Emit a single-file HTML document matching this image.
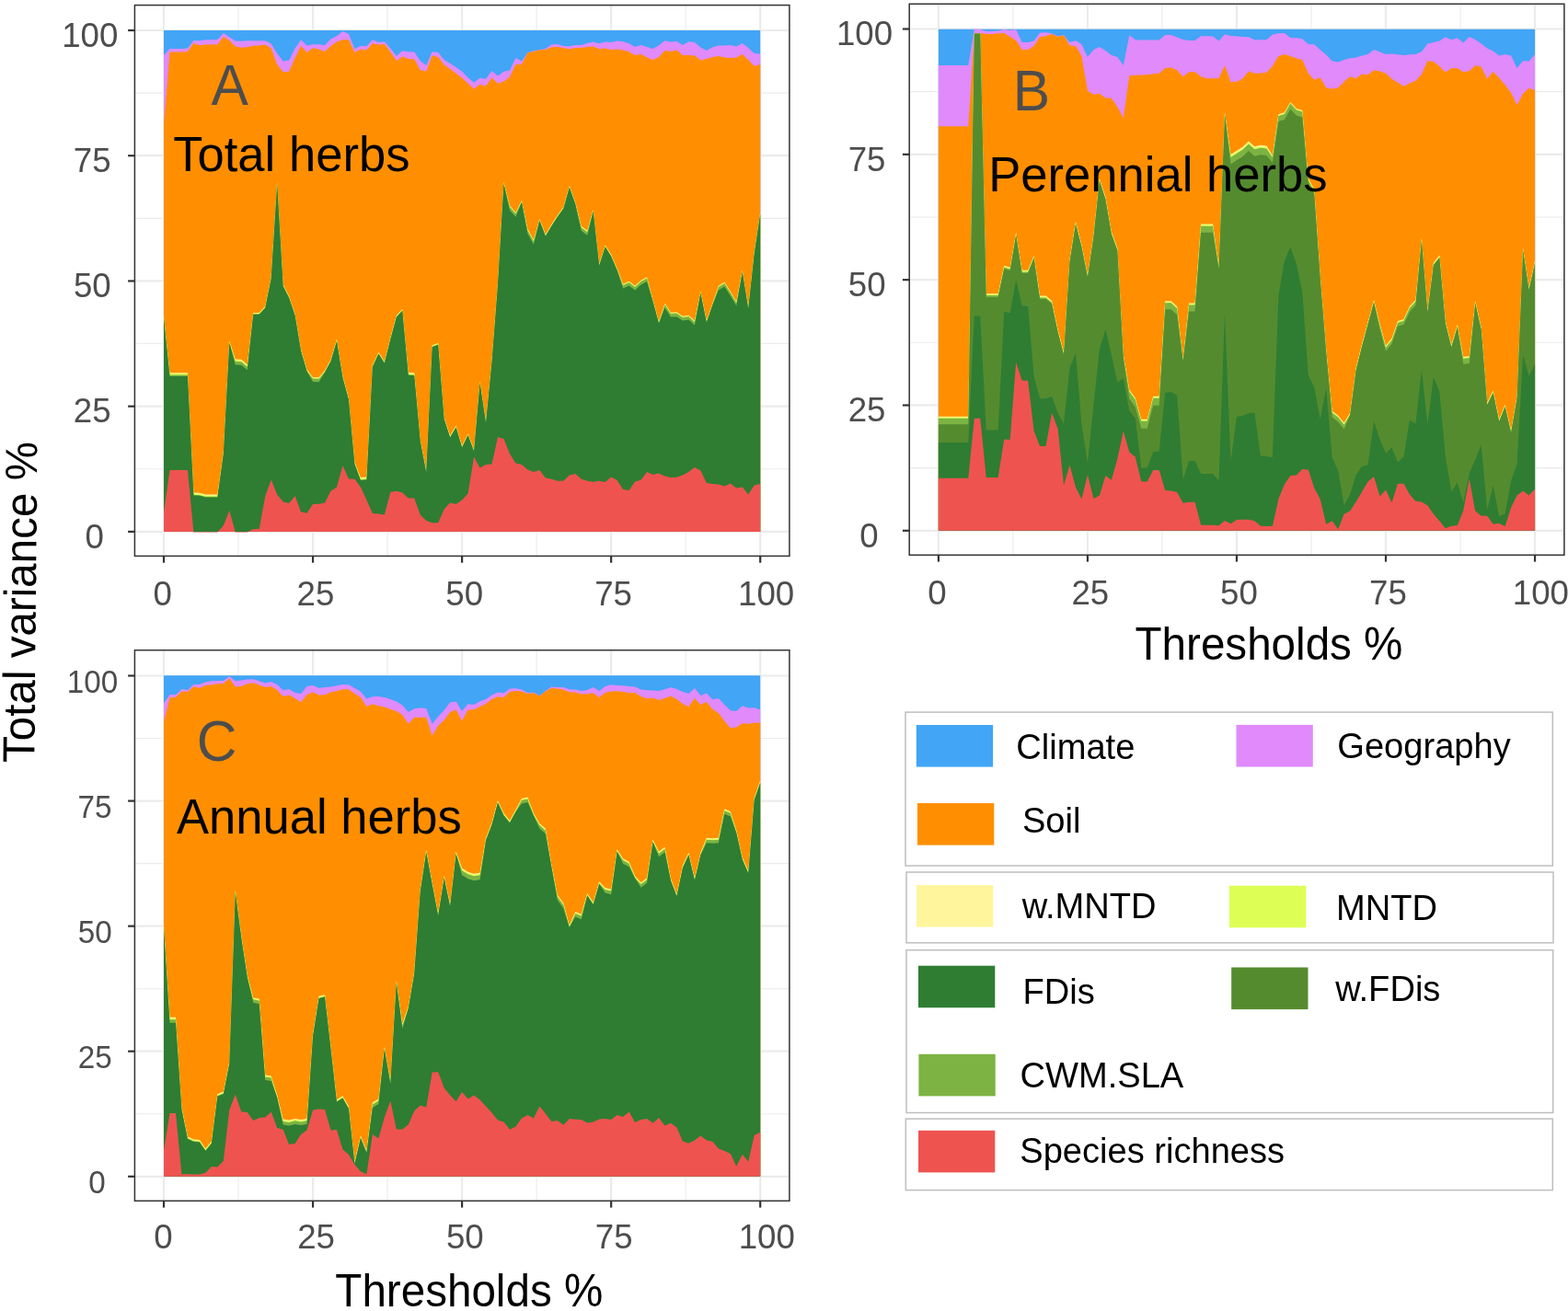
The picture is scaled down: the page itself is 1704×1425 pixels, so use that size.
<!DOCTYPE html>
<html lang="en"><head><meta charset="utf-8"><title>Variance partitioning across thresholds</title>
<style>html,body{margin:0;padding:0;background:#fff}body{width:1704px;height:1425px;overflow:hidden}svg{display:block}</style>
</head><body>
<svg width="1704" height="1425" viewBox="0 0 1704 1425" font-family="'Liberation Sans', sans-serif">
<rect width="1704" height="1425" fill="#fff"/>
<g id="pA">
<rect x="146.4" y="5.6" width="711.5" height="598.8" fill="#fff"/>
<line x1="259.02" y1="5.6" x2="259.02" y2="604.4" stroke="#EBEBEB" stroke-width="1.1"/>
<line x1="146.4" y1="509.79" x2="857.9" y2="509.79" stroke="#EBEBEB" stroke-width="1.1"/>
<line x1="421.08" y1="5.6" x2="421.08" y2="604.4" stroke="#EBEBEB" stroke-width="1.1"/>
<line x1="146.4" y1="373.56" x2="857.9" y2="373.56" stroke="#EBEBEB" stroke-width="1.1"/>
<line x1="583.12" y1="5.6" x2="583.12" y2="604.4" stroke="#EBEBEB" stroke-width="1.1"/>
<line x1="146.4" y1="237.34" x2="857.9" y2="237.34" stroke="#EBEBEB" stroke-width="1.1"/>
<line x1="745.18" y1="5.6" x2="745.18" y2="604.4" stroke="#EBEBEB" stroke-width="1.1"/>
<line x1="146.4" y1="101.11" x2="857.9" y2="101.11" stroke="#EBEBEB" stroke-width="1.1"/>
<line x1="178" y1="5.6" x2="178" y2="604.4" stroke="#EBEBEB" stroke-width="2.2"/>
<line x1="146.4" y1="577.9" x2="857.9" y2="577.9" stroke="#EBEBEB" stroke-width="2.2"/>
<line x1="340.05" y1="5.6" x2="340.05" y2="604.4" stroke="#EBEBEB" stroke-width="2.2"/>
<line x1="146.4" y1="441.67" x2="857.9" y2="441.67" stroke="#EBEBEB" stroke-width="2.2"/>
<line x1="502.1" y1="5.6" x2="502.1" y2="604.4" stroke="#EBEBEB" stroke-width="2.2"/>
<line x1="146.4" y1="305.45" x2="857.9" y2="305.45" stroke="#EBEBEB" stroke-width="2.2"/>
<line x1="664.15" y1="5.6" x2="664.15" y2="604.4" stroke="#EBEBEB" stroke-width="2.2"/>
<line x1="146.4" y1="169.22" x2="857.9" y2="169.22" stroke="#EBEBEB" stroke-width="2.2"/>
<line x1="826.2" y1="5.6" x2="826.2" y2="604.4" stroke="#EBEBEB" stroke-width="2.2"/>
<line x1="146.4" y1="33" x2="857.9" y2="33" stroke="#EBEBEB" stroke-width="2.2"/>
<polygon fill="#42A5F5" points="178,577.9 178,33 184.48,33 190.96,33 197.45,33 203.93,33 210.41,33 216.89,33 223.37,33 229.86,33 236.34,33 242.82,33 249.3,33 255.78,33 262.27,33 268.75,33 275.23,33 281.71,33 288.19,33 294.68,33 301.16,33 307.64,33 314.12,33 320.6,33 327.09,33 333.57,33 340.05,33 346.53,33 353.01,33 359.5,33 365.98,33 372.46,33 378.94,33 385.42,33 391.91,33 398.39,33 404.87,33 411.35,33 417.83,33 424.32,33 430.8,33 437.28,33 443.76,33 450.24,33 456.73,33 463.21,33 469.69,33 476.17,33 482.65,33 489.14,33 495.62,33 502.1,33 508.58,33 515.06,33 521.55,33 528.03,33 534.51,33 540.99,33 547.47,33 553.96,33 560.44,33 566.92,33 573.4,33 579.88,33 586.37,33 592.85,33 599.33,33 605.81,33 612.29,33 618.78,33 625.26,33 631.74,33 638.22,33 644.7,33 651.19,33 657.67,33 664.15,33 670.63,33 677.11,33 683.6,33 690.08,33 696.56,33 703.04,33 709.52,33 716.01,33 722.49,33 728.97,33 735.45,33 741.93,33 748.42,33 754.9,33 761.38,33 767.86,33 774.34,33 780.83,33 787.31,33 793.79,33 800.27,33 806.75,33 813.24,33 819.72,33 826.2,33 826.2,577.9"/>
<polygon fill="#E08AFB" points="178,577.9 178,59.92 184.48,52.93 190.96,52.93 197.45,52.93 203.93,52.53 210.41,43.95 216.89,44.35 223.37,43.36 229.86,43.16 236.34,42.96 242.82,35.97 249.3,40.36 255.78,44.55 262.27,44.75 268.75,44.35 275.23,44.15 281.71,44.15 288.19,44.15 294.68,47.55 301.16,57.92 307.64,66.5 314.12,65.5 320.6,52.53 327.09,43.36 333.57,49.54 340.05,48.34 346.53,48.34 353.01,49.34 359.5,42.36 365.98,39.37 372.46,33.98 378.94,36.97 385.42,52.93 391.91,49.94 398.39,50.34 404.87,43.36 411.35,45.95 417.83,45.15 424.32,52.53 430.8,60.91 437.28,55.33 443.76,56.32 450.24,56.52 456.73,66.3 463.21,70.89 469.69,56.32 476.17,56.92 482.65,64.9 489.14,68.89 495.62,72.89 502.1,77.87 508.58,84.26 515.06,89.84 521.55,84.86 528.03,85.85 534.51,76.88 540.99,82.46 547.47,77.87 553.96,76.48 560.44,62.91 566.92,66.5 573.4,56.92 579.88,55.33 586.37,53.93 592.85,52.93 599.33,48.54 605.81,47.94 612.29,49.94 618.78,50.34 625.26,48.94 631.74,48.94 638.22,46.95 644.7,45.55 651.19,47.35 657.67,45.55 664.15,45.95 670.63,44.55 677.11,45.35 683.6,47.35 690.08,50.94 696.56,48.94 703.04,50.94 709.52,52.93 716.01,49.34 722.49,44.35 728.97,45.55 735.45,44.95 741.93,48.94 748.42,45.35 754.9,45.95 761.38,51.54 767.86,54.93 774.34,51.34 780.83,49.54 787.31,49.54 793.79,48.94 800.27,50.54 806.75,46.95 813.24,51.94 819.72,57.92 826.2,58.52 826.2,577.9"/>
<polygon fill="#FF8F00" points="178,577.9 178,135.93 184.48,56.52 190.96,56.52 197.45,56.52 203.93,55.93 210.41,46.95 216.89,49.34 223.37,48.54 229.86,48.34 236.34,48.54 242.82,39.96 249.3,43.95 255.78,50.54 262.27,51.74 268.75,51.14 275.23,49.74 281.71,49.54 288.19,48.54 294.68,52.53 301.16,69.89 307.64,78.27 314.12,77.87 320.6,62.91 327.09,49.94 333.57,56.92 340.05,52.33 346.53,53.53 353.01,55.93 359.5,49.94 365.98,45.55 372.46,43.36 378.94,43.36 385.42,56.92 391.91,53.53 398.39,54.53 404.87,47.35 411.35,48.54 417.83,47.94 424.32,56.52 430.8,65.9 437.28,61.51 443.76,63.91 450.24,64.31 456.73,76.28 463.21,77.47 469.69,60.32 476.17,61.91 482.65,70.49 489.14,74.88 495.62,79.87 502.1,84.86 508.58,90.84 515.06,96.83 521.55,91.84 528.03,93.44 534.51,84.46 540.99,90.84 547.47,88.45 553.96,83.86 560.44,69.89 566.92,69.89 573.4,57.32 579.88,55.93 586.37,54.33 592.85,53.93 599.33,51.34 605.81,50.94 612.29,51.94 618.78,53.33 625.26,51.94 631.74,51.94 638.22,50.94 644.7,50.54 651.19,53.33 657.67,52.53 664.15,53.93 670.63,53.53 677.11,54.53 683.6,56.32 690.08,59.92 696.56,58.92 703.04,62.31 709.52,64.9 716.01,61.91 722.49,54.93 728.97,55.93 735.45,54.53 741.93,59.92 748.42,59.92 754.9,60.51 761.38,65.3 767.86,63.91 774.34,61.91 780.83,60.91 787.31,62.51 793.79,62.91 800.27,62.51 806.75,58.92 813.24,64.9 819.72,71.89 826.2,69.89 826.2,577.9"/>
<polygon fill="#FFF59D" points="178,577.9 178,343.89 184.48,405.15 190.96,405.15 197.45,405.15 203.93,405.15 210.41,535.43 216.89,535.83 223.37,537.43 229.86,537.43 236.34,537.43 242.82,491.54 249.3,370.83 255.78,390.38 262.27,390.78 268.75,396.17 275.23,339.9 281.71,339.9 288.19,332.92 294.68,301 301.16,198 307.64,308.98 314.12,321.95 320.6,340.9 327.09,379.81 333.57,401.76 340.05,410.14 346.53,410.34 353.01,402.75 359.5,390.78 365.98,368.83 372.46,408.74 378.94,432.68 385.42,502.51 391.91,519.07 398.39,518.48 404.87,396.77 411.35,382.8 417.83,392.78 424.32,366.84 430.8,342.9 437.28,335.91 443.76,404.75 450.24,405.15 456.73,477.57 463.21,511.49 469.69,375.42 476.17,372.83 482.65,453.63 489.14,473.58 495.62,462.61 502.1,484.56 508.58,471.19 515.06,488.55 521.55,414.72 528.03,457.62 534.51,391.52 540.99,307.72 547.47,197.98 553.96,223.52 560.44,230.9 566.92,217.93 573.4,248.86 579.88,260.83 586.37,237.89 592.85,254.84 599.33,243.87 605.81,233.89 612.29,224.92 618.78,201.97 625.26,219.93 631.74,245.87 638.22,250.85 644.7,227.91 651.19,286.77 657.67,266.42 664.15,276.79 670.63,291.76 677.11,308.72 683.6,305.72 690.08,310.71 696.56,304.72 703.04,301.13 709.52,325.67 716.01,349.62 722.49,329.66 728.97,339.64 735.45,339.24 741.93,343.63 748.42,342.63 754.9,348.62 761.38,316.7 767.86,348.62 774.34,329.66 780.83,310.71 787.31,306.72 793.79,316.7 800.27,327.67 806.75,293.75 813.24,333.66 819.72,273.8 826.2,230.9 826.2,577.9"/>
<polygon fill="#DDFF55" points="178,577.9 178,344.41 184.48,406.11 190.96,406.11 197.45,406.11 203.93,406.11 210.41,536.39 216.89,536.79 223.37,538.39 229.86,538.39 236.34,538.39 242.82,492.06 249.3,371.35 255.78,391.34 262.27,391.74 268.75,397.13 275.23,340.42 281.71,340.42 288.19,333.44 294.68,301.52 301.16,198.52 307.64,309.5 314.12,322.47 320.6,341.42 327.09,380.33 333.57,402.28 340.05,410.66 346.53,410.86 353.01,403.27 359.5,391.3 365.98,369.35 372.46,409.26 378.94,433.2 385.42,503.03 391.91,520.03 398.39,519.44 404.87,397.29 411.35,383.32 417.83,393.3 424.32,367.36 430.8,343.42 437.28,336.43 443.76,405.71 450.24,406.11 456.73,478.09 463.21,512.01 469.69,375.94 476.17,373.35 482.65,454.15 489.14,474.1 495.62,463.13 502.1,485.08 508.58,471.71 515.06,489.07 521.55,415.24 528.03,458.14 534.51,392.04 540.99,308.24 547.47,198.5 553.96,224.04 560.44,231.42 566.92,218.45 573.4,249.38 579.88,261.35 586.37,238.41 592.85,255.36 599.33,244.39 605.81,234.41 612.29,225.44 618.78,202.49 625.26,220.45 631.74,246.39 638.22,251.37 644.7,228.43 651.19,287.29 657.67,266.94 664.15,277.31 670.63,292.28 677.11,309.24 683.6,306.24 690.08,311.23 696.56,305.24 703.04,301.65 709.52,326.19 716.01,350.14 722.49,330.18 728.97,340.16 735.45,339.76 741.93,344.15 748.42,343.15 754.9,349.14 761.38,317.22 767.86,349.14 774.34,330.18 780.83,311.23 787.31,307.24 793.79,317.22 800.27,328.19 806.75,294.27 813.24,334.18 819.72,274.32 826.2,231.42 826.2,577.9"/>
<polygon fill="#7CB342" points="178,577.9 178,345.19 184.48,407.55 190.96,407.55 197.45,407.55 203.93,407.55 210.41,537.83 216.89,538.23 223.37,539.83 229.86,539.83 236.34,539.83 242.82,492.84 249.3,372.13 255.78,392.78 262.27,393.18 268.75,398.57 275.23,341.2 281.71,341.2 288.19,334.22 294.68,302.3 301.16,199.3 307.64,310.28 314.12,323.25 320.6,342.2 327.09,381.11 333.57,403.06 340.05,411.44 346.53,411.64 353.01,404.05 359.5,392.08 365.98,370.13 372.46,410.04 378.94,433.98 385.42,503.81 391.91,521.47 398.39,520.88 404.87,398.07 411.35,384.1 417.83,394.08 424.32,368.14 430.8,344.2 437.28,337.21 443.76,407.15 450.24,407.55 456.73,478.87 463.21,512.79 469.69,376.72 476.17,374.13 482.65,454.93 489.14,474.88 495.62,463.91 502.1,485.86 508.58,472.49 515.06,489.85 521.55,416.02 528.03,458.92 534.51,392.82 540.99,309.02 547.47,199.28 553.96,224.82 560.44,232.2 566.92,219.23 573.4,250.16 579.88,262.13 586.37,239.19 592.85,256.14 599.33,245.17 605.81,235.19 612.29,226.22 618.78,203.27 625.26,221.23 631.74,247.17 638.22,252.15 644.7,229.21 651.19,288.07 657.67,267.72 664.15,278.09 670.63,293.06 677.11,310.02 683.6,307.02 690.08,312.01 696.56,306.02 703.04,302.43 709.52,326.97 716.01,350.92 722.49,330.96 728.97,340.94 735.45,340.54 741.93,344.93 748.42,343.93 754.9,349.92 761.38,318 767.86,349.92 774.34,330.96 780.83,312.01 787.31,308.02 793.79,318 800.27,328.97 806.75,295.05 813.24,334.96 819.72,275.1 826.2,232.2 826.2,577.9"/>
<polygon fill="#2E7D32" points="178,577.9 178,345.79 184.48,409.05 190.96,409.05 197.45,409.05 203.93,409.05 210.41,538.43 216.89,538.83 223.37,540.43 229.86,540.43 236.34,540.43 242.82,493.44 249.3,372.73 255.78,396.38 262.27,396.78 268.75,402.17 275.23,341.8 281.71,341.8 288.19,334.82 294.68,302.9 301.16,199.9 307.64,310.88 314.12,323.85 320.6,342.8 327.09,381.71 333.57,403.66 340.05,415.04 346.53,415.24 353.01,404.65 359.5,392.68 365.98,370.73 372.46,410.64 378.94,434.58 385.42,504.41 391.91,522.07 398.39,521.48 404.87,398.67 411.35,384.7 417.83,394.68 424.32,368.74 430.8,344.8 437.28,337.81 443.76,407.75 450.24,408.15 456.73,479.47 463.21,513.39 469.69,377.32 476.17,374.73 482.65,455.53 489.14,475.48 495.62,464.51 502.1,486.46 508.58,473.09 515.06,490.45 521.55,416.62 528.03,459.52 534.51,393.42 540.99,309.62 547.47,199.88 553.96,228.42 560.44,235.8 566.92,219.83 573.4,253.76 579.88,265.73 586.37,239.79 592.85,256.74 599.33,245.77 605.81,235.79 612.29,226.82 618.78,203.87 625.26,221.83 631.74,250.77 638.22,255.75 644.7,229.81 651.19,288.67 657.67,268.32 664.15,278.69 670.63,293.66 677.11,313.62 683.6,310.62 690.08,315.61 696.56,309.62 703.04,306.03 709.52,327.57 716.01,351.52 722.49,334.56 728.97,344.54 735.45,344.14 741.93,348.53 748.42,347.53 754.9,353.52 761.38,318.6 767.86,350.52 774.34,331.56 780.83,315.61 787.31,311.62 793.79,321.6 800.27,332.57 806.75,295.65 813.24,335.56 819.72,275.7 826.2,232.8 826.2,577.9"/>
<polygon fill="#EF5350" points="178,577.9 178,556.38 184.48,510.89 190.96,510.89 197.45,510.89 203.93,510.89 210.41,578.5 216.89,578.5 223.37,578.5 229.86,578.5 236.34,578.5 242.82,571.35 249.3,554.99 255.78,578.5 262.27,578.5 268.75,578.5 275.23,574.94 281.71,574.94 288.19,539.43 294.68,521.47 301.16,537.43 307.64,545.41 314.12,547.01 320.6,539.03 327.09,556.38 333.57,557.78 340.05,548 346.53,547.81 353.01,546.41 359.5,533.84 365.98,529.45 372.46,506.11 378.94,520.47 385.42,520.87 391.91,529.45 398.39,543.42 404.87,557.98 411.35,558.38 417.83,559.38 424.32,535.04 430.8,533.84 437.28,535.43 443.76,541.42 450.24,541.42 456.73,559.38 463.21,565.96 469.69,568.36 476.17,568.36 482.65,553.39 489.14,546.41 495.62,548 502.1,543.42 508.58,536.43 515.06,496.53 521.55,508.5 528.03,505.11 534.51,504.51 540.99,474.98 547.47,476.98 553.96,493.14 560.44,503.51 566.92,504.91 573.4,510.49 579.88,513.09 586.37,510.89 592.85,519.47 599.33,520.87 605.81,522.87 612.29,522.87 618.78,516.48 625.26,515.08 631.74,520.87 638.22,522.87 644.7,523.86 651.19,522.87 657.67,524.06 664.15,518.48 670.63,522.07 677.11,532.04 683.6,533.04 690.08,523.46 696.56,521.87 703.04,513.09 709.52,515.88 716.01,514.49 722.49,517.48 728.97,519.07 735.45,518.87 741.93,516.48 748.42,513.09 754.9,507.9 761.38,511.49 767.86,525.06 774.34,526.06 780.83,526.46 787.31,528.45 793.79,525.46 800.27,530.45 806.75,529.45 813.24,537.43 819.72,527.45 826.2,526.06 826.2,577.9"/>
<rect x="146.4" y="5.6" width="711.5" height="598.8" fill="none" stroke="#333" stroke-width="1.5"/>
<line x1="178" y1="604.4" x2="178" y2="611.6999999999999" stroke="#333" stroke-width="2.2"/>
<line x1="139.1" y1="577.9" x2="146.4" y2="577.9" stroke="#333" stroke-width="2.2"/>
<line x1="340.05" y1="604.4" x2="340.05" y2="611.6999999999999" stroke="#333" stroke-width="2.2"/>
<line x1="139.1" y1="441.67" x2="146.4" y2="441.67" stroke="#333" stroke-width="2.2"/>
<line x1="502.1" y1="604.4" x2="502.1" y2="611.6999999999999" stroke="#333" stroke-width="2.2"/>
<line x1="139.1" y1="305.45" x2="146.4" y2="305.45" stroke="#333" stroke-width="2.2"/>
<line x1="664.15" y1="604.4" x2="664.15" y2="611.6999999999999" stroke="#333" stroke-width="2.2"/>
<line x1="139.1" y1="169.22" x2="146.4" y2="169.22" stroke="#333" stroke-width="2.2"/>
<line x1="826.2" y1="604.4" x2="826.2" y2="611.6999999999999" stroke="#333" stroke-width="2.2"/>
<line x1="139.1" y1="33" x2="146.4" y2="33" stroke="#333" stroke-width="2.2"/>
</g>
<text transform="translate(92.54,595.7) scale(1,1.02)" font-size="36.67" fill="#4D4D4D">0</text>
<text transform="translate(79.85,459.47) scale(1,1.02)" font-size="36.67" fill="#4D4D4D">25</text>
<text transform="translate(79.95,323.25) scale(1,1.02)" font-size="36.67" fill="#4D4D4D">50</text>
<text transform="translate(79.85,187.02) scale(1,1.02)" font-size="36.67" fill="#4D4D4D">75</text>
<text transform="translate(67.15,50.8) scale(1,1.02)" font-size="36.67" fill="#4D4D4D">100</text>
<text transform="translate(166.44,657.8) scale(1,1.02)" font-size="36.67" fill="#4D4D4D">0</text>
<text transform="translate(322.5,657.8) scale(1,1.02)" font-size="36.67" fill="#4D4D4D">25</text>
<text transform="translate(484.25,657.8) scale(1,1.02)" font-size="36.67" fill="#4D4D4D">50</text>
<text transform="translate(646.15,657.8) scale(1,1.02)" font-size="36.67" fill="#4D4D4D">75</text>
<text transform="translate(802,657.8) scale(1,1.02)" font-size="36.67" fill="#4D4D4D">100</text>
<g id="pB">
<rect x="988.2" y="4.3" width="711.7" height="599.0" fill="#fff"/>
<line x1="1100.92" y1="4.3" x2="1100.92" y2="603.3" stroke="#EBEBEB" stroke-width="1.1"/>
<line x1="988.2" y1="508.64" x2="1699.9" y2="508.64" stroke="#EBEBEB" stroke-width="1.1"/>
<line x1="1262.96" y1="4.3" x2="1262.96" y2="603.3" stroke="#EBEBEB" stroke-width="1.1"/>
<line x1="988.2" y1="372.31" x2="1699.9" y2="372.31" stroke="#EBEBEB" stroke-width="1.1"/>
<line x1="1424.99" y1="4.3" x2="1424.99" y2="603.3" stroke="#EBEBEB" stroke-width="1.1"/>
<line x1="988.2" y1="235.99" x2="1699.9" y2="235.99" stroke="#EBEBEB" stroke-width="1.1"/>
<line x1="1587.03" y1="4.3" x2="1587.03" y2="603.3" stroke="#EBEBEB" stroke-width="1.1"/>
<line x1="988.2" y1="99.66" x2="1699.9" y2="99.66" stroke="#EBEBEB" stroke-width="1.1"/>
<line x1="1019.9" y1="4.3" x2="1019.9" y2="603.3" stroke="#EBEBEB" stroke-width="2.2"/>
<line x1="988.2" y1="576.8" x2="1699.9" y2="576.8" stroke="#EBEBEB" stroke-width="2.2"/>
<line x1="1181.94" y1="4.3" x2="1181.94" y2="603.3" stroke="#EBEBEB" stroke-width="2.2"/>
<line x1="988.2" y1="440.47" x2="1699.9" y2="440.47" stroke="#EBEBEB" stroke-width="2.2"/>
<line x1="1343.97" y1="4.3" x2="1343.97" y2="603.3" stroke="#EBEBEB" stroke-width="2.2"/>
<line x1="988.2" y1="304.15" x2="1699.9" y2="304.15" stroke="#EBEBEB" stroke-width="2.2"/>
<line x1="1506.01" y1="4.3" x2="1506.01" y2="603.3" stroke="#EBEBEB" stroke-width="2.2"/>
<line x1="988.2" y1="167.82" x2="1699.9" y2="167.82" stroke="#EBEBEB" stroke-width="2.2"/>
<line x1="1668.05" y1="4.3" x2="1668.05" y2="603.3" stroke="#EBEBEB" stroke-width="2.2"/>
<line x1="988.2" y1="31.5" x2="1699.9" y2="31.5" stroke="#EBEBEB" stroke-width="2.2"/>
<polygon fill="#42A5F5" points="1019.9,576.8 1019.9,31.7 1026.38,31.7 1032.86,31.7 1039.34,31.7 1045.83,31.7 1052.31,31.7 1058.79,31.7 1065.27,31.7 1071.75,31.7 1078.23,31.7 1084.71,31.7 1091.2,31.7 1097.68,31.7 1104.16,31.7 1110.64,31.7 1117.12,31.7 1123.6,31.7 1130.09,31.7 1136.57,31.7 1143.05,31.7 1149.53,31.7 1156.01,31.7 1162.49,31.7 1168.97,31.7 1175.46,31.7 1181.94,31.7 1188.42,31.7 1194.9,31.7 1201.38,31.7 1207.86,31.7 1214.35,31.7 1220.83,31.7 1227.31,31.7 1233.79,31.7 1240.27,31.7 1246.75,31.7 1253.23,31.7 1259.72,31.7 1266.2,31.7 1272.68,31.7 1279.16,31.7 1285.64,31.7 1292.12,31.7 1298.6,31.7 1305.09,31.7 1311.57,31.7 1318.05,31.7 1324.53,31.7 1331.01,31.7 1337.49,31.7 1343.97,31.7 1350.46,31.7 1356.94,31.7 1363.42,31.7 1369.9,31.7 1376.38,31.7 1382.86,31.7 1389.35,31.7 1395.83,31.7 1402.31,31.7 1408.79,31.7 1415.27,31.7 1421.75,31.7 1428.23,31.7 1434.72,31.7 1441.2,31.7 1447.68,31.7 1454.16,31.7 1460.64,31.7 1467.12,31.7 1473.61,31.7 1480.09,31.7 1486.57,31.7 1493.05,31.7 1499.53,31.7 1506.01,31.7 1512.49,31.7 1518.98,31.7 1525.46,31.7 1531.94,31.7 1538.42,31.7 1544.9,31.7 1551.38,31.7 1557.86,31.7 1564.35,31.7 1570.83,31.7 1577.31,31.7 1583.79,31.7 1590.27,31.7 1596.75,31.7 1603.23,31.7 1609.72,31.7 1616.2,31.7 1622.68,31.7 1629.16,31.7 1635.64,31.7 1642.12,31.7 1648.61,31.7 1655.09,31.7 1661.57,31.7 1668.05,31.7 1668.05,576.8"/>
<polygon fill="#E08AFB" points="1019.9,576.8 1019.9,70.89 1026.38,70.89 1032.86,70.89 1039.34,70.89 1045.83,70.89 1052.31,70.89 1058.79,31.58 1065.27,31.98 1071.75,33.98 1078.23,33.98 1084.71,33.38 1091.2,31.98 1097.68,32.98 1104.16,31.98 1110.64,45.95 1117.12,45.95 1123.6,44.55 1130.09,35.57 1136.57,35.37 1143.05,36.37 1149.53,39.36 1156.01,37.97 1162.49,45.95 1168.97,44.35 1175.46,47.94 1181.94,61.91 1188.42,53.93 1194.9,50.94 1201.38,54.93 1207.86,59.91 1214.35,61.91 1220.83,70.89 1227.31,38.37 1233.79,43.35 1240.27,43.55 1246.75,43.55 1253.23,43.55 1259.72,43.55 1266.2,37.97 1272.68,37.97 1279.16,40.56 1285.64,42.95 1292.12,43.95 1298.6,43.95 1305.09,39.36 1311.57,39.36 1318.05,39.56 1324.53,44.55 1331.01,37.37 1337.49,38.96 1343.97,39.56 1350.46,39.96 1356.94,40.36 1363.42,43.35 1369.9,43.35 1376.38,43.35 1382.86,37.57 1389.35,36.37 1395.83,35.97 1402.31,40.96 1408.79,41.36 1415.27,42.36 1421.75,47.94 1428.23,48.34 1434.72,53.93 1441.2,59.51 1447.68,66.3 1454.16,67.5 1460.64,64.9 1467.12,63.31 1473.61,62.51 1480.09,60.51 1486.57,58.92 1493.05,53.93 1499.53,56.52 1506.01,58.92 1512.49,58.52 1518.98,59.32 1525.46,59.91 1531.94,59.32 1538.42,58.92 1544.9,56.32 1551.38,47.54 1557.86,45.95 1564.35,44.55 1570.83,40.36 1577.31,43.35 1583.79,41.36 1590.27,46.55 1596.75,39.96 1603.23,42.95 1609.72,47.54 1616.2,52.53 1622.68,55.52 1629.16,60.51 1635.64,58.92 1642.12,60.51 1648.61,73.88 1655.09,66.3 1661.57,66.5 1668.05,58.92 1668.05,576.8"/>
<polygon fill="#FF8F00" points="1019.9,576.8 1019.9,137.33 1026.38,137.33 1032.86,137.33 1039.34,137.33 1045.83,137.33 1052.31,137.33 1058.79,35.97 1065.27,35.97 1071.75,36.97 1078.23,36.97 1084.71,36.37 1091.2,35.97 1097.68,39.96 1104.16,43.95 1110.64,53.93 1117.12,53.93 1123.6,49.94 1130.09,39.96 1136.57,39.36 1143.05,36.97 1149.53,39.96 1156.01,38.57 1162.49,49.54 1168.97,49.94 1175.46,60.91 1181.94,98.82 1188.42,102.81 1194.9,101.81 1201.38,106.4 1207.86,106.8 1214.35,116.18 1220.83,128.15 1227.31,82.26 1233.79,81.86 1240.27,81.46 1246.75,81.26 1253.23,80.26 1259.72,79.87 1266.2,73.88 1272.68,73.48 1279.16,76.27 1285.64,83.46 1292.12,78.27 1298.6,78.27 1305.09,83.26 1311.57,85.25 1318.05,85.25 1324.53,85.25 1331.01,70.89 1337.49,89.24 1343.97,88.84 1350.46,85.45 1356.94,77.47 1363.42,79.87 1369.9,79.47 1376.38,78.87 1382.86,71.89 1389.35,60.91 1395.83,58.92 1402.31,60.91 1408.79,63.51 1415.27,64.9 1421.75,79.87 1428.23,86.85 1434.72,84.26 1441.2,95.43 1447.68,96.43 1454.16,95.43 1460.64,88.84 1467.12,83.26 1473.61,85.25 1480.09,80.46 1486.57,81.26 1493.05,76.27 1499.53,77.47 1506.01,79.87 1512.49,85.85 1518.98,89.84 1525.46,93.83 1531.94,90.44 1538.42,87.85 1544.9,80.86 1551.38,66.3 1557.86,66.9 1564.35,71.89 1570.83,78.47 1577.31,74.28 1583.79,73.88 1590.27,78.27 1596.75,77.27 1603.23,71.29 1609.72,72.48 1616.2,85.85 1622.68,77.87 1629.16,84.85 1635.64,92.24 1642.12,100.82 1648.61,114.18 1655.09,101.81 1661.57,95.83 1668.05,98.22 1668.05,576.8"/>
<polygon fill="#FFF59D" points="1019.9,576.8 1019.9,452.63 1026.38,452.63 1032.86,452.63 1039.34,452.63 1045.83,452.63 1052.31,452.63 1058.79,36 1065.27,36 1071.75,319.35 1078.23,319.35 1084.71,319.35 1091.2,288.67 1097.68,290.66 1104.16,252.75 1110.64,293.66 1117.12,293.66 1123.6,277.69 1130.09,321.55 1136.57,321.55 1143.05,326.94 1149.53,357.86 1156.01,382.8 1162.49,281.68 1168.97,240.78 1175.46,265.72 1181.94,298.64 1188.42,254.75 1194.9,193.89 1201.38,213.85 1207.86,251.76 1214.35,269.71 1220.83,385.79 1227.31,423.7 1233.79,432.68 1240.27,455.63 1246.75,455.63 1253.23,430.69 1259.72,430.69 1266.2,327.33 1272.68,327.33 1279.16,333.32 1285.64,389.78 1292.12,329.53 1298.6,329.53 1305.09,243.38 1311.57,243.38 1318.05,243.38 1324.53,289.66 1331.01,121.8 1337.49,167.96 1343.97,163.85 1350.46,159.86 1356.94,153.47 1363.42,159.26 1369.9,157.86 1376.38,158.46 1382.86,168.83 1389.35,124.34 1395.83,122.35 1402.31,110.97 1408.79,117.96 1415.27,119.95 1421.75,193.77 1428.23,205.75 1434.72,299.52 1441.2,379.81 1447.68,446.65 1454.16,451.64 1460.64,459.62 1467.12,448.64 1473.61,399.76 1480.09,373.82 1486.57,349.88 1493.05,325.94 1499.53,351.88 1506.01,375.82 1512.49,367.84 1518.98,348.88 1525.46,346.89 1531.94,332.92 1538.42,325.94 1544.9,258.62 1551.38,336.91 1557.86,285.55 1564.35,277.57 1570.83,348.88 1577.31,374.82 1583.79,352.87 1590.27,387.79 1596.75,387.19 1603.23,326.94 1609.72,355.87 1616.2,437.67 1622.68,424.3 1629.16,455.63 1635.64,439.66 1642.12,467.6 1648.61,429.69 1655.09,269.59 1661.57,312.49 1668.05,283.56 1668.05,576.8"/>
<polygon fill="#DDFF55" points="1019.9,576.8 1019.9,453.43 1026.38,453.43 1032.86,453.43 1039.34,453.43 1045.83,453.43 1052.31,453.43 1058.79,36.08 1065.27,36.08 1071.75,319.99 1078.23,319.99 1084.71,319.99 1091.2,289.43 1097.68,291.42 1104.16,253.51 1110.64,294.42 1117.12,294.42 1123.6,278.45 1130.09,322.31 1136.57,322.31 1143.05,327.7 1149.53,358.62 1156.01,383.56 1162.49,282.44 1168.97,241.54 1175.46,266.48 1181.94,299.4 1188.42,255.51 1194.9,194.65 1201.38,214.61 1207.86,252.52 1214.35,270.47 1220.83,386.55 1227.31,424.46 1233.79,433.44 1240.27,456.43 1246.75,456.43 1253.23,431.49 1259.72,431.49 1266.2,328.13 1272.68,328.13 1279.16,334.12 1285.64,390.54 1292.12,330.33 1298.6,330.33 1305.09,244.34 1311.57,244.34 1318.05,244.34 1324.53,290.42 1331.01,122.56 1337.49,169.16 1343.97,165.05 1350.46,161.06 1356.94,154.67 1363.42,160.46 1369.9,159.06 1376.38,159.66 1382.86,169.63 1389.35,124.98 1395.83,122.99 1402.31,111.61 1408.79,118.6 1415.27,120.59 1421.75,194.53 1428.23,206.51 1434.72,300.28 1441.2,380.57 1447.68,447.41 1454.16,452.4 1460.64,460.38 1467.12,449.4 1473.61,400.52 1480.09,374.58 1486.57,350.64 1493.05,326.7 1499.53,352.64 1506.01,376.58 1512.49,368.6 1518.98,349.64 1525.46,347.65 1531.94,333.68 1538.42,326.7 1544.9,259.38 1551.38,337.67 1557.86,286.31 1564.35,278.33 1570.83,349.64 1577.31,375.58 1583.79,353.63 1590.27,388.55 1596.75,387.95 1603.23,327.7 1609.72,356.63 1616.2,438.43 1622.68,425.06 1629.16,456.39 1635.64,440.42 1642.12,468.36 1648.61,430.45 1655.09,270.35 1661.57,313.25 1668.05,284.32 1668.05,576.8"/>
<polygon fill="#7CB342" points="1019.9,576.8 1019.9,454.63 1026.38,454.63 1032.86,454.63 1039.34,454.63 1045.83,454.63 1052.31,454.63 1058.79,36.2 1065.27,36.2 1071.75,320.95 1078.23,320.95 1084.71,320.95 1091.2,290.57 1097.68,292.56 1104.16,254.65 1110.64,295.56 1117.12,295.56 1123.6,279.59 1130.09,323.45 1136.57,323.45 1143.05,328.84 1149.53,359.76 1156.01,384.7 1162.49,283.58 1168.97,242.68 1175.46,267.62 1181.94,300.54 1188.42,256.65 1194.9,195.79 1201.38,215.75 1207.86,253.66 1214.35,271.61 1220.83,387.69 1227.31,425.6 1233.79,434.58 1240.27,457.63 1246.75,457.63 1253.23,432.69 1259.72,432.69 1266.2,329.33 1272.68,329.33 1279.16,335.32 1285.64,391.68 1292.12,331.53 1298.6,331.53 1305.09,245.78 1311.57,245.78 1318.05,245.78 1324.53,291.56 1331.01,123.7 1337.49,170.96 1343.97,166.85 1350.46,162.86 1356.94,156.47 1363.42,162.26 1369.9,160.86 1376.38,161.46 1382.86,170.83 1389.35,125.94 1395.83,123.95 1402.31,112.57 1408.79,119.56 1415.27,121.55 1421.75,195.67 1428.23,207.65 1434.72,301.42 1441.2,381.71 1447.68,448.55 1454.16,453.54 1460.64,461.52 1467.12,450.54 1473.61,401.66 1480.09,375.72 1486.57,351.78 1493.05,327.84 1499.53,353.78 1506.01,377.72 1512.49,369.74 1518.98,350.78 1525.46,348.79 1531.94,334.82 1538.42,327.84 1544.9,260.52 1551.38,338.81 1557.86,287.45 1564.35,279.47 1570.83,350.78 1577.31,376.72 1583.79,354.77 1590.27,389.69 1596.75,389.09 1603.23,328.84 1609.72,357.77 1616.2,439.57 1622.68,426.2 1629.16,457.53 1635.64,441.56 1642.12,469.5 1648.61,431.59 1655.09,271.49 1661.57,314.39 1668.05,285.46 1668.05,576.8"/>
<polygon fill="#558B2F" points="1019.9,576.8 1019.9,461.23 1026.38,461.23 1032.86,461.23 1039.34,461.23 1045.83,461.23 1052.31,461.23 1058.79,36.4 1065.27,36.4 1071.75,322.95 1078.23,322.95 1084.71,322.95 1091.2,292.07 1097.68,294.06 1104.16,255.45 1110.64,297.06 1117.12,297.06 1123.6,280.39 1130.09,324.95 1136.57,324.95 1143.05,330.34 1149.53,360.56 1156.01,385.5 1162.49,284.38 1168.97,243.48 1175.46,268.42 1181.94,301.34 1188.42,257.45 1194.9,196.59 1201.38,216.55 1207.86,254.46 1214.35,272.41 1220.83,388.49 1227.31,433.6 1233.79,442.58 1240.27,465.63 1246.75,465.63 1253.23,440.69 1259.72,440.69 1266.2,336.33 1272.68,336.33 1279.16,342.32 1285.64,392.48 1292.12,338.53 1298.6,338.53 1305.09,252.78 1311.57,252.78 1318.05,252.78 1324.53,292.36 1331.01,124.5 1337.49,178.46 1343.97,174.35 1350.46,170.36 1356.94,163.97 1363.42,169.76 1369.9,168.36 1376.38,168.96 1382.86,176.83 1389.35,131.94 1395.83,129.95 1402.31,118.57 1408.79,125.56 1415.27,127.55 1421.75,198.67 1428.23,210.65 1434.72,302.22 1441.2,382.51 1447.68,453.55 1454.16,458.54 1460.64,466.52 1467.12,451.34 1473.61,402.46 1480.09,376.52 1486.57,352.58 1493.05,328.64 1499.53,357.78 1506.01,381.72 1512.49,373.74 1518.98,354.78 1525.46,352.79 1531.94,338.82 1538.42,331.84 1544.9,261.32 1551.38,339.61 1557.86,288.25 1564.35,280.27 1570.83,351.58 1577.31,377.52 1583.79,355.57 1590.27,395.69 1596.75,395.09 1603.23,329.64 1609.72,358.57 1616.2,440.37 1622.68,427 1629.16,458.33 1635.64,442.36 1642.12,470.3 1648.61,432.39 1655.09,272.29 1661.57,315.19 1668.05,286.26 1668.05,576.8"/>
<polygon fill="#2E7D32" points="1019.9,576.8 1019.9,480.97 1026.38,480.97 1032.86,480.97 1039.34,480.97 1045.83,480.97 1052.31,480.97 1058.79,343.5 1065.27,343.5 1071.75,467.6 1078.23,467.6 1084.71,467.2 1091.2,338.91 1097.68,339.9 1104.16,303.99 1110.64,332.32 1117.12,332.92 1123.6,408.74 1130.09,433.28 1136.57,433.28 1143.05,430.69 1149.53,448.64 1156.01,460.61 1162.49,399.76 1168.97,383.8 1175.46,461.61 1181.94,503.51 1188.42,439.66 1194.9,379.81 1201.38,357.86 1207.86,385.79 1214.35,415.72 1220.83,411.33 1227.31,446.65 1233.79,454.63 1240.27,508.5 1246.75,508.5 1253.23,490.94 1259.72,490.54 1266.2,426.7 1272.68,426.1 1279.16,429.69 1285.64,521.47 1292.12,501.12 1298.6,501.12 1305.09,515.08 1311.57,515.08 1318.05,515.08 1324.53,522.47 1331.01,339.9 1337.49,501.52 1343.97,452.63 1350.46,451.64 1356.94,449.04 1363.42,448.64 1369.9,495.53 1376.38,495.93 1382.86,497.13 1389.35,321.95 1395.83,283.56 1402.31,268.6 1408.79,286.55 1415.27,317.48 1421.75,407.74 1428.23,420.71 1434.72,455.63 1441.2,421.71 1447.68,497.53 1454.16,511.49 1460.64,549.4 1467.12,537.43 1473.61,516.48 1480.09,506.9 1486.57,505.51 1493.05,457.62 1499.53,477.57 1506.01,492.54 1512.49,486.55 1518.98,502.51 1525.46,496.53 1531.94,456.62 1538.42,460.61 1544.9,401.76 1551.38,461.61 1557.86,409.74 1564.35,425.7 1570.83,496.53 1577.31,534.44 1583.79,524.46 1590.27,546.41 1596.75,514.49 1603.23,499.52 1609.72,483.56 1616.2,554.39 1622.68,527.45 1629.16,561.37 1635.64,558.38 1642.12,522.47 1648.61,504.51 1655.09,385.79 1661.57,408.74 1668.05,395.77 1668.05,576.8"/>
<polygon fill="#EF5350" points="1019.9,576.8 1019.9,519.87 1026.38,519.87 1032.86,519.87 1039.34,519.87 1045.83,519.87 1052.31,519.87 1058.79,454.63 1065.27,454.63 1071.75,519.07 1078.23,519.07 1084.71,519.07 1091.2,477.57 1097.68,477.97 1104.16,393.77 1110.64,413.73 1117.12,413.73 1123.6,468.6 1130.09,484.96 1136.57,484.96 1143.05,448.64 1149.53,465.6 1156.01,527.45 1162.49,505.51 1168.97,529.45 1175.46,542.42 1181.94,516.08 1188.42,542.02 1194.9,538.43 1201.38,516.88 1207.86,521.87 1214.35,498.52 1220.83,468.6 1227.31,491.54 1233.79,496.53 1240.27,523.46 1246.75,523.46 1253.23,510.89 1259.72,510.89 1266.2,533.04 1272.68,533.44 1279.16,535.04 1285.64,546.81 1292.12,545.81 1298.6,545.81 1305.09,570.75 1311.57,570.75 1318.05,570.75 1324.53,571.35 1331.01,565.96 1337.49,569.35 1343.97,564.96 1350.46,564.76 1356.94,564.76 1363.42,566.36 1369.9,571.75 1376.38,571.95 1382.86,571.95 1389.35,542.42 1395.83,526.46 1402.31,516.88 1408.79,516.48 1415.27,509.9 1421.75,510.49 1428.23,530.45 1434.72,542.42 1441.2,569.75 1447.68,566.36 1454.16,575.34 1460.64,558.78 1467.12,555.39 1473.61,545.41 1480.09,534.44 1486.57,523.46 1493.05,517.88 1499.53,539.43 1506.01,532.44 1512.49,546.41 1518.98,525.86 1525.46,525.86 1531.94,537.43 1538.42,544.81 1544.9,545.41 1551.38,549.4 1557.86,558.78 1564.35,566.36 1570.83,574.34 1577.31,571.75 1583.79,570.95 1590.27,554.99 1596.75,520.47 1603.23,555.39 1609.72,560.77 1616.2,560.77 1622.68,569.75 1629.16,568.75 1635.64,572.35 1642.12,551.4 1648.61,538.43 1655.09,533.44 1661.57,538.43 1668.05,531.44 1668.05,576.8"/>
<rect x="988.2" y="4.3" width="711.7" height="599.0" fill="none" stroke="#333" stroke-width="1.5"/>
<line x1="1019.9" y1="603.3" x2="1019.9" y2="610.5999999999999" stroke="#333" stroke-width="2.2"/>
<line x1="980.9000000000001" y1="576.8" x2="988.2" y2="576.8" stroke="#333" stroke-width="2.2"/>
<line x1="1181.94" y1="603.3" x2="1181.94" y2="610.5999999999999" stroke="#333" stroke-width="2.2"/>
<line x1="980.9000000000001" y1="440.47" x2="988.2" y2="440.47" stroke="#333" stroke-width="2.2"/>
<line x1="1343.97" y1="603.3" x2="1343.97" y2="610.5999999999999" stroke="#333" stroke-width="2.2"/>
<line x1="980.9000000000001" y1="304.15" x2="988.2" y2="304.15" stroke="#333" stroke-width="2.2"/>
<line x1="1506.01" y1="603.3" x2="1506.01" y2="610.5999999999999" stroke="#333" stroke-width="2.2"/>
<line x1="980.9000000000001" y1="167.82" x2="988.2" y2="167.82" stroke="#333" stroke-width="2.2"/>
<line x1="1668.05" y1="603.3" x2="1668.05" y2="610.5999999999999" stroke="#333" stroke-width="2.2"/>
<line x1="980.9000000000001" y1="31.5" x2="988.2" y2="31.5" stroke="#333" stroke-width="2.2"/>
</g>
<text transform="translate(934.34,594.6) scale(1,1.02)" font-size="36.67" fill="#4D4D4D">0</text>
<text transform="translate(921.65,458.27) scale(1,1.02)" font-size="36.67" fill="#4D4D4D">25</text>
<text transform="translate(921.75,321.95) scale(1,1.02)" font-size="36.67" fill="#4D4D4D">50</text>
<text transform="translate(921.65,185.62) scale(1,1.02)" font-size="36.67" fill="#4D4D4D">75</text>
<text transform="translate(908.95,49.3) scale(1,1.02)" font-size="36.67" fill="#4D4D4D">100</text>
<text transform="translate(1008.34,656.7) scale(1,1.02)" font-size="36.67" fill="#4D4D4D">0</text>
<text transform="translate(1164.39,656.7) scale(1,1.02)" font-size="36.67" fill="#4D4D4D">25</text>
<text transform="translate(1326.12,656.7) scale(1,1.02)" font-size="36.67" fill="#4D4D4D">50</text>
<text transform="translate(1488.02,656.7) scale(1,1.02)" font-size="36.67" fill="#4D4D4D">75</text>
<text transform="translate(1643.85,656.7) scale(1,1.02)" font-size="36.67" fill="#4D4D4D">100</text>
<g id="pC">
<rect x="146.4" y="706.7" width="711.5" height="598.5999999999999" fill="#fff"/>
<line x1="259.02" y1="706.7" x2="259.02" y2="1305.3" stroke="#EBEBEB" stroke-width="1.1"/>
<line x1="146.4" y1="1210.76" x2="857.9" y2="1210.76" stroke="#EBEBEB" stroke-width="1.1"/>
<line x1="421.08" y1="706.7" x2="421.08" y2="1305.3" stroke="#EBEBEB" stroke-width="1.1"/>
<line x1="146.4" y1="1074.69" x2="857.9" y2="1074.69" stroke="#EBEBEB" stroke-width="1.1"/>
<line x1="583.12" y1="706.7" x2="583.12" y2="1305.3" stroke="#EBEBEB" stroke-width="1.1"/>
<line x1="146.4" y1="938.61" x2="857.9" y2="938.61" stroke="#EBEBEB" stroke-width="1.1"/>
<line x1="745.18" y1="706.7" x2="745.18" y2="1305.3" stroke="#EBEBEB" stroke-width="1.1"/>
<line x1="146.4" y1="802.54" x2="857.9" y2="802.54" stroke="#EBEBEB" stroke-width="1.1"/>
<line x1="178" y1="706.7" x2="178" y2="1305.3" stroke="#EBEBEB" stroke-width="2.2"/>
<line x1="146.4" y1="1278.8" x2="857.9" y2="1278.8" stroke="#EBEBEB" stroke-width="2.2"/>
<line x1="340.05" y1="706.7" x2="340.05" y2="1305.3" stroke="#EBEBEB" stroke-width="2.2"/>
<line x1="146.4" y1="1142.72" x2="857.9" y2="1142.72" stroke="#EBEBEB" stroke-width="2.2"/>
<line x1="502.1" y1="706.7" x2="502.1" y2="1305.3" stroke="#EBEBEB" stroke-width="2.2"/>
<line x1="146.4" y1="1006.65" x2="857.9" y2="1006.65" stroke="#EBEBEB" stroke-width="2.2"/>
<line x1="664.15" y1="706.7" x2="664.15" y2="1305.3" stroke="#EBEBEB" stroke-width="2.2"/>
<line x1="146.4" y1="870.58" x2="857.9" y2="870.58" stroke="#EBEBEB" stroke-width="2.2"/>
<line x1="826.2" y1="706.7" x2="826.2" y2="1305.3" stroke="#EBEBEB" stroke-width="2.2"/>
<line x1="146.4" y1="734.5" x2="857.9" y2="734.5" stroke="#EBEBEB" stroke-width="2.2"/>
<polygon fill="#42A5F5" points="178,1278.8 178,734.3 184.48,734.3 190.96,734.3 197.45,734.3 203.93,734.3 210.41,734.3 216.89,734.3 223.37,734.3 229.86,734.3 236.34,734.3 242.82,734.3 249.3,734.3 255.78,734.3 262.27,734.3 268.75,734.3 275.23,734.3 281.71,734.3 288.19,734.3 294.68,734.3 301.16,734.3 307.64,734.3 314.12,734.3 320.6,734.3 327.09,734.3 333.57,734.3 340.05,734.3 346.53,734.3 353.01,734.3 359.5,734.3 365.98,734.3 372.46,734.3 378.94,734.3 385.42,734.3 391.91,734.3 398.39,734.3 404.87,734.3 411.35,734.3 417.83,734.3 424.32,734.3 430.8,734.3 437.28,734.3 443.76,734.3 450.24,734.3 456.73,734.3 463.21,734.3 469.69,734.3 476.17,734.3 482.65,734.3 489.14,734.3 495.62,734.3 502.1,734.3 508.58,734.3 515.06,734.3 521.55,734.3 528.03,734.3 534.51,734.3 540.99,734.3 547.47,734.3 553.96,734.3 560.44,734.3 566.92,734.3 573.4,734.3 579.88,734.3 586.37,734.3 592.85,734.3 599.33,734.3 605.81,734.3 612.29,734.3 618.78,734.3 625.26,734.3 631.74,734.3 638.22,734.3 644.7,734.3 651.19,734.3 657.67,734.3 664.15,734.3 670.63,734.3 677.11,734.3 683.6,734.3 690.08,734.3 696.56,734.3 703.04,734.3 709.52,734.3 716.01,734.3 722.49,734.3 728.97,734.3 735.45,734.3 741.93,734.3 748.42,734.3 754.9,734.3 761.38,734.3 767.86,734.3 774.34,734.3 780.83,734.3 787.31,734.3 793.79,734.3 800.27,734.3 806.75,734.3 813.24,734.3 819.72,734.3 826.2,734.3 826.2,1278.8"/>
<polygon fill="#E08AFB" points="178,1278.8 178,764.51 184.48,754.93 190.96,755.33 197.45,748.94 203.93,749.94 210.41,743.96 216.89,743.96 223.37,741.36 229.86,740.37 236.34,739.97 242.82,739.97 249.3,734.98 255.78,740.37 262.27,739.57 268.75,738.57 275.23,738.37 281.71,740.37 288.19,742.56 294.68,740.96 301.16,743.96 307.64,750.34 314.12,748.94 320.6,752.94 327.09,753.93 333.57,745.95 340.05,744.95 346.53,747.95 353.01,746.95 359.5,746.55 365.98,745.35 372.46,743.96 378.94,744.36 385.42,747.95 391.91,751.54 398.39,759.52 404.87,757.32 411.35,756.93 417.83,757.92 424.32,759.92 430.8,762.51 437.28,766.5 443.76,773.89 450.24,770.29 456.73,769.5 463.21,769.89 469.69,786.85 476.17,778.87 482.65,771.89 489.14,763.51 495.62,762.51 502.1,772.89 508.58,765.31 515.06,765.9 521.55,762.31 528.03,759.92 534.51,755.53 540.99,752.54 547.47,753.53 553.96,748.55 560.44,748.35 566.92,749.54 573.4,752.94 579.88,752.54 586.37,755.93 592.85,750.94 599.33,746.55 605.81,746.95 612.29,746.95 618.78,749.34 625.26,749.54 631.74,750.94 638.22,749.94 644.7,746.95 651.19,750.94 657.67,745.95 664.15,744.36 670.63,744.95 677.11,745.35 683.6,745.95 690.08,746.55 696.56,749.54 703.04,750.34 709.52,750.54 716.01,750.94 722.49,749.34 728.97,746.95 735.45,748.94 741.93,751.94 748.42,753.93 754.9,747.95 761.38,755.93 767.86,753.53 774.34,760.32 780.83,758.92 787.31,765.9 793.79,772.29 800.27,772.89 806.75,767.3 813.24,769.5 819.72,769.3 826.2,771.49 826.2,1278.8"/>
<polygon fill="#FF8F00" points="178,1278.8 178,784.86 184.48,758.32 190.96,757.92 197.45,751.54 203.93,751.94 210.41,746.35 216.89,747.95 223.37,744.95 229.86,744.36 236.34,743.16 242.82,742.96 249.3,737.57 255.78,746.55 262.27,745.95 268.75,743.36 275.23,742.36 281.71,744.56 288.19,746.95 294.68,745.95 301.16,749.94 307.64,756.93 314.12,755.53 320.6,758.92 327.09,763.31 333.57,754.93 340.05,752.54 346.53,755.53 353.01,755.33 359.5,752.34 365.98,751.34 372.46,749.34 378.94,749.34 385.42,753.93 391.91,757.92 398.39,767.9 404.87,765.31 411.35,767.3 417.83,768.5 424.32,770.89 430.8,772.89 437.28,776.88 443.76,786.85 450.24,779.87 456.73,779.87 463.21,779.87 469.69,799.82 476.17,788.85 482.65,782.86 489.14,773.89 495.62,771.49 502.1,783.46 508.58,771.49 515.06,771.29 521.55,767.9 528.03,764.91 534.51,759.92 540.99,757.32 547.47,757.92 553.96,751.94 560.44,750.94 566.92,751.54 573.4,753.93 579.88,753.33 586.37,756.53 592.85,751.54 599.33,747.95 605.81,748.55 612.29,749.54 618.78,752.34 625.26,752.54 631.74,754.53 638.22,754.33 644.7,753.33 651.19,757.92 657.67,752.94 664.15,751.54 670.63,751.34 677.11,751.94 683.6,752.94 690.08,752.94 696.56,756.93 703.04,759.32 709.52,758.52 716.01,760.92 722.49,758.92 728.97,756.53 735.45,759.92 741.93,764.91 748.42,767.9 754.9,758.92 761.38,765.9 767.86,762.91 774.34,770.89 780.83,774.88 787.31,783.86 793.79,791.44 800.27,790.45 806.75,786.26 813.24,786.85 819.72,785.86 826.2,785.46 826.2,1278.8"/>
<polygon fill="#FFF59D" points="178,1278.8 178,1006.6 184.48,1105.75 190.96,1105.75 197.45,1203.52 203.93,1235.44 210.41,1238.43 216.89,1239.03 223.37,1248.41 229.86,1240.43 236.34,1189.15 242.82,1186.56 249.3,1153.64 255.78,967.7 262.27,1016.96 268.75,1059.86 275.23,1084.4 281.71,1085.8 288.19,1168.6 294.68,1169.6 301.16,1190.55 307.64,1216.49 314.12,1217.48 320.6,1215.89 327.09,1217.08 333.57,1215.89 340.05,1123.71 346.53,1082.81 353.01,1081.21 359.5,1137.67 365.98,1195.14 372.46,1191.15 378.94,1202.52 385.42,1262.38 391.91,1234.44 398.39,1250.4 404.87,1198.53 411.35,1194.54 417.83,1137.67 424.32,1175.58 430.8,1065.85 437.28,1112.73 443.76,1093.78 450.24,1055.87 456.73,966.71 463.21,923.81 469.69,958.73 476.17,992.65 482.65,951.74 489.14,982.67 495.62,925.81 502.1,943.76 508.58,947.75 515.06,949.75 521.55,948.75 528.03,910.84 534.51,893.88 540.99,869.94 547.47,883.91 553.96,891.89 560.44,879.92 566.92,867.94 573.4,866.55 579.88,883.91 586.37,894.88 592.85,900.87 599.33,939.77 605.81,972.69 612.29,981.67 618.78,1005.61 625.26,991.05 631.74,993.64 638.22,971.1 644.7,980.67 651.19,958.33 657.67,965.11 664.15,966.71 670.63,923.21 677.11,933.19 683.6,936.78 690.08,952.14 696.56,959.13 703.04,954.34 709.52,912.84 716.01,925.81 722.49,920.82 728.97,954.74 735.45,971.7 741.93,940.77 748.42,926.8 754.9,954.34 761.38,926.8 767.86,910.84 774.34,911.24 780.83,910.84 787.31,879.32 793.79,881.91 800.27,902.86 806.75,931.79 813.24,946.76 819.72,866.95 826.2,848.59 826.2,1278.8"/>
<polygon fill="#DDFF55" points="178,1278.8 178,1007.36 184.48,1106.71 190.96,1106.71 197.45,1204.28 203.93,1236.2 210.41,1239.19 216.89,1239.79 223.37,1249.17 229.86,1241.19 236.34,1189.91 242.82,1187.32 249.3,1154.4 255.78,968.46 262.27,1017.72 268.75,1060.62 275.23,1085.16 281.71,1086.56 288.19,1169.36 294.68,1170.36 301.16,1191.31 307.64,1217.45 314.12,1218.44 320.6,1216.85 327.09,1218.04 333.57,1216.85 340.05,1124.47 346.53,1083.57 353.01,1081.97 359.5,1138.43 365.98,1195.9 372.46,1191.91 378.94,1203.28 385.42,1263.14 391.91,1235.2 398.39,1251.16 404.87,1199.29 411.35,1195.3 417.83,1138.43 424.32,1176.34 430.8,1066.61 437.28,1113.49 443.76,1094.54 450.24,1056.63 456.73,967.47 463.21,924.57 469.69,959.49 476.17,993.41 482.65,952.5 489.14,983.43 495.62,926.57 502.1,944.72 508.58,948.71 515.06,950.71 521.55,949.71 528.03,911.6 534.51,894.64 540.99,870.7 547.47,884.67 553.96,892.65 560.44,880.68 566.92,868.7 573.4,867.31 579.88,884.67 586.37,895.64 592.85,901.63 599.33,940.53 605.81,973.45 612.29,982.43 618.78,1006.37 625.26,991.81 631.74,994.4 638.22,971.86 644.7,981.43 651.19,959.09 657.67,965.87 664.15,967.47 670.63,923.97 677.11,933.95 683.6,937.54 690.08,952.9 696.56,959.89 703.04,955.1 709.52,913.6 716.01,926.57 722.49,921.58 728.97,955.5 735.45,972.46 741.93,941.53 748.42,927.56 754.9,955.1 761.38,927.56 767.86,911.6 774.34,912 780.83,911.6 787.31,880.08 793.79,882.67 800.27,903.62 806.75,932.55 813.24,947.52 819.72,867.71 826.2,849.35 826.2,1278.8"/>
<polygon fill="#7CB342" points="178,1278.8 178,1008.5 184.48,1108.15 190.96,1108.15 197.45,1205.42 203.93,1237.34 210.41,1240.33 216.89,1240.93 223.37,1250.31 229.86,1242.33 236.34,1191.05 242.82,1188.46 249.3,1155.54 255.78,969.6 262.27,1018.86 268.75,1061.76 275.23,1086.3 281.71,1087.7 288.19,1170.5 294.68,1171.5 301.16,1192.45 307.64,1218.89 314.12,1219.88 320.6,1218.29 327.09,1219.48 333.57,1218.29 340.05,1125.61 346.53,1084.71 353.01,1083.11 359.5,1139.57 365.98,1197.04 372.46,1193.05 378.94,1204.42 385.42,1264.28 391.91,1236.34 398.39,1252.3 404.87,1200.43 411.35,1196.44 417.83,1139.57 424.32,1177.48 430.8,1067.75 437.28,1114.63 443.76,1095.68 450.24,1057.77 456.73,968.61 463.21,925.71 469.69,960.63 476.17,994.55 482.65,953.64 489.14,984.57 495.62,927.71 502.1,946.16 508.58,950.15 515.06,952.15 521.55,951.15 528.03,912.74 534.51,895.78 540.99,871.84 547.47,885.81 553.96,893.79 560.44,881.82 566.92,869.84 573.4,868.45 579.88,885.81 586.37,896.78 592.85,902.77 599.33,941.67 605.81,974.59 612.29,983.57 618.78,1007.51 625.26,992.95 631.74,995.54 638.22,973 644.7,982.57 651.19,960.23 657.67,967.01 664.15,968.61 670.63,925.11 677.11,935.09 683.6,938.68 690.08,954.04 696.56,961.03 703.04,956.24 709.52,914.74 716.01,927.71 722.49,922.72 728.97,956.64 735.45,973.6 741.93,942.67 748.42,928.7 754.9,956.24 761.38,928.7 767.86,912.74 774.34,913.14 780.83,912.74 787.31,881.22 793.79,883.81 800.27,904.76 806.75,933.69 813.24,948.66 819.72,868.85 826.2,850.49 826.2,1278.8"/>
<polygon fill="#2E7D32" points="178,1278.8 178,1009.1 184.48,1111.75 190.96,1111.75 197.45,1206.02 203.93,1237.94 210.41,1240.93 216.89,1241.53 223.37,1250.91 229.86,1242.93 236.34,1191.65 242.82,1189.06 249.3,1156.14 255.78,970.2 262.27,1019.46 268.75,1062.36 275.23,1089.9 281.71,1091.3 288.19,1174.1 294.68,1175.1 301.16,1193.05 307.64,1222.49 314.12,1223.48 320.6,1221.89 327.09,1223.08 333.57,1221.89 340.05,1126.21 346.53,1085.31 353.01,1083.71 359.5,1140.17 365.98,1197.64 372.46,1193.65 378.94,1205.02 385.42,1264.88 391.91,1236.94 398.39,1252.9 404.87,1204.03 411.35,1200.04 417.83,1140.17 424.32,1178.08 430.8,1068.35 437.28,1118.23 443.76,1096.28 450.24,1058.37 456.73,969.21 463.21,926.31 469.69,961.23 476.17,995.15 482.65,954.24 489.14,985.17 495.62,928.31 502.1,951.16 508.58,955.15 515.06,957.15 521.55,956.15 528.03,913.34 534.51,896.38 540.99,872.44 547.47,886.41 553.96,894.39 560.44,882.42 566.92,873.44 573.4,872.05 579.88,886.41 586.37,900.38 592.85,906.37 599.33,942.27 605.81,978.19 612.29,987.17 618.78,1008.11 625.26,996.55 631.74,999.14 638.22,973.6 644.7,983.17 651.19,960.83 657.67,970.61 664.15,972.21 670.63,925.71 677.11,938.69 683.6,942.28 690.08,954.64 696.56,964.63 703.04,959.84 709.52,915.34 716.01,931.31 722.49,926.32 728.97,957.24 735.45,974.2 741.93,943.27 748.42,929.3 754.9,956.84 761.38,929.3 767.86,916.34 774.34,916.74 780.83,916.34 787.31,884.82 793.79,887.41 800.27,905.36 806.75,934.29 813.24,949.26 819.72,869.45 826.2,851.09 826.2,1278.8"/>
<polygon fill="#EF5350" points="178,1278.8 178,1250.4 184.48,1209.9 190.96,1209.9 197.45,1276.34 203.93,1276.34 210.41,1276.54 216.89,1276.54 223.37,1274.75 229.86,1267.96 236.34,1268.56 242.82,1261.98 249.3,1206.51 255.78,1189.55 262.27,1208.5 268.75,1208.9 275.23,1218.08 281.71,1215.09 288.19,1214.49 294.68,1208.5 301.16,1226.06 307.64,1227.86 314.12,1244.02 320.6,1243.02 327.09,1233.05 333.57,1228.46 340.05,1206.51 346.53,1205.51 353.01,1205.91 359.5,1228.46 365.98,1228.06 372.46,1249.41 378.94,1254.99 385.42,1265.77 391.91,1273.35 398.39,1276.34 404.87,1233.05 411.35,1237.43 417.83,1214.49 424.32,1196.53 430.8,1227.46 437.28,1227.46 443.76,1222.47 450.24,1207.51 456.73,1201.52 463.21,1203.52 469.69,1165.61 476.17,1165.21 482.65,1182.57 489.14,1190.55 495.62,1197.13 502.1,1186.96 508.58,1194.54 515.06,1190.55 521.55,1195.54 528.03,1202.52 534.51,1209.5 540.99,1217.48 547.47,1219.48 553.96,1227.86 560.44,1224.47 566.92,1215.49 573.4,1212.1 579.88,1215.49 586.37,1202.52 592.85,1210.5 599.33,1219.08 605.81,1217.88 612.29,1222.87 618.78,1215.89 625.26,1216.68 631.74,1216.88 638.22,1220.48 644.7,1219.48 651.19,1216.49 657.67,1215.89 664.15,1216.88 670.63,1212.1 677.11,1213.89 683.6,1208.5 690.08,1219.88 696.56,1216.88 703.04,1215.89 709.52,1220.87 716.01,1214.89 722.49,1223.47 728.97,1220.87 735.45,1225.46 741.93,1240.43 748.42,1242.82 754.9,1239.43 761.38,1234.44 767.86,1239.43 774.34,1240.83 780.83,1248.41 787.31,1251 793.79,1254 800.27,1267.76 806.75,1254.79 813.24,1262.77 819.72,1234.04 826.2,1230.85 826.2,1278.8"/>
<rect x="146.4" y="706.7" width="711.5" height="598.5999999999999" fill="none" stroke="#333" stroke-width="1.5"/>
<line x1="178" y1="1305.3" x2="178" y2="1312.6" stroke="#333" stroke-width="2.2"/>
<line x1="139.1" y1="1278.8" x2="146.4" y2="1278.8" stroke="#333" stroke-width="2.2"/>
<line x1="340.05" y1="1305.3" x2="340.05" y2="1312.6" stroke="#333" stroke-width="2.2"/>
<line x1="139.1" y1="1142.72" x2="146.4" y2="1142.72" stroke="#333" stroke-width="2.2"/>
<line x1="502.1" y1="1305.3" x2="502.1" y2="1312.6" stroke="#333" stroke-width="2.2"/>
<line x1="139.1" y1="1006.65" x2="146.4" y2="1006.65" stroke="#333" stroke-width="2.2"/>
<line x1="664.15" y1="1305.3" x2="664.15" y2="1312.6" stroke="#333" stroke-width="2.2"/>
<line x1="139.1" y1="870.58" x2="146.4" y2="870.58" stroke="#333" stroke-width="2.2"/>
<line x1="826.2" y1="1305.3" x2="826.2" y2="1312.6" stroke="#333" stroke-width="2.2"/>
<line x1="139.1" y1="734.5" x2="146.4" y2="734.5" stroke="#333" stroke-width="2.2"/>
</g>
<text transform="translate(96.34,1297.1) scale(1,1.07)" font-size="33.2" fill="#4D4D4D">0</text>
<text transform="translate(84.87,1161.02) scale(1,1.07)" font-size="33.2" fill="#4D4D4D">25</text>
<text transform="translate(84.77,1024.95) scale(1,1.07)" font-size="33.2" fill="#4D4D4D">50</text>
<text transform="translate(84.47,888.88) scale(1,1.07)" font-size="33.2" fill="#4D4D4D">75</text>
<text transform="translate(72.8,752.8) scale(1,1.07)" font-size="33.2" fill="#4D4D4D">100</text>
<text transform="translate(167.14,1356.9) scale(1,1.02)" font-size="36.67" fill="#4D4D4D">0</text>
<text transform="translate(323.2,1356.9) scale(1,1.02)" font-size="36.67" fill="#4D4D4D">25</text>
<text transform="translate(484.95,1356.9) scale(1,1.02)" font-size="36.67" fill="#4D4D4D">50</text>
<text transform="translate(646.85,1356.9) scale(1,1.02)" font-size="36.67" fill="#4D4D4D">75</text>
<text transform="translate(802.7,1356.9) scale(1,1.02)" font-size="36.67" fill="#4D4D4D">100</text>
<text transform="translate(229.57,113.9) scale(1,1.03)" font-size="60.5" fill="#4D4D4D">A</text>
<text transform="translate(1100.83,119.9) scale(1,1.03)" font-size="60.5" fill="#4D4D4D">B</text>
<text transform="translate(213.72,827) scale(1,1.03)" font-size="60.5" fill="#4D4D4D">C</text>
<text transform="translate(188.21,185.5) scale(1,1.005)" font-size="52.6" fill="#000">Total herbs</text>
<text transform="translate(1074.18,207.6) scale(1,1.005)" font-size="52.6" fill="#000">Perennial herbs</text>
<text transform="translate(192,906) scale(1,1.005)" font-size="52.6" fill="#000">Annual herbs</text>
<text transform="translate(1233.53,717.2) scale(1,1.03)" font-size="47.6" fill="#000">Thresholds %</text>
<text transform="translate(364.33,1420.35) scale(1,1.03)" font-size="47.6" fill="#000">Thresholds %</text>
<text transform="translate(37.2,829.27) rotate(-89.46) scale(1,1.03)" font-size="47.6" fill="#000">Total variance %</text>
<rect x="984" y="774.1" width="703.3" height="166.9" fill="#fff" stroke="#BEBEBE" stroke-width="1.5"/>
<rect x="985" y="948" width="703" height="76.8" fill="#fff" stroke="#BEBEBE" stroke-width="1.5"/>
<rect x="985" y="1032.7" width="702.7" height="176.8" fill="#fff" stroke="#BEBEBE" stroke-width="1.5"/>
<rect x="984.3" y="1216.1" width="703" height="77.5" fill="#fff" stroke="#BEBEBE" stroke-width="1.5"/>
<rect x="995.8" y="788" width="83.3" height="45.6" fill="#42A5F5"/>
<text transform="translate(1104.26,825) scale(1,1.02)" font-size="38.1" fill="#000">Climate</text>
<rect x="1343.5" y="787.9" width="83.3" height="45.6" fill="#E08AFB"/>
<text transform="translate(1453.28,824.4) scale(1,1.02)" font-size="38.1" fill="#000">Geography</text>
<rect x="997" y="873" width="83.3" height="45.6" fill="#FF8F00"/>
<text transform="translate(1110.94,904.9) scale(1,1.02)" font-size="38.1" fill="#000">Soil</text>
<rect x="996" y="962" width="83.3" height="45.6" fill="#FFF59D"/>
<text transform="translate(1110.63,997.7) scale(1,1.04)" font-size="38.1" fill="#000">w.MNTD</text>
<rect x="1336" y="962.7" width="83.3" height="45.6" fill="#DDFF55"/>
<text transform="translate(1452.07,999.7) scale(1,1.04)" font-size="38.1" fill="#000">MNTD</text>
<rect x="998" y="1049.7" width="83.3" height="45.6" fill="#2E7D32"/>
<text transform="translate(1111.57,1090.6) scale(1,1.02)" font-size="38.1" fill="#000">FDis</text>
<rect x="1338.2" y="1051.5" width="83.3" height="45.6" fill="#558B2F"/>
<text transform="translate(1451.13,1087.8) scale(1,1.02)" font-size="38.1" fill="#000">w.FDis</text>
<rect x="998.4" y="1145.8" width="83.3" height="45.6" fill="#7CB342"/>
<text transform="translate(1108.46,1182) scale(1,1.04)" font-size="38.1" fill="#000">CWM.SLA</text>
<rect x="998" y="1228.8" width="83.3" height="45.6" fill="#EF5350"/>
<text transform="translate(1108.24,1263.9) scale(1,1.02)" font-size="38.1" fill="#000">Species richness</text>
</svg>
</body></html>
